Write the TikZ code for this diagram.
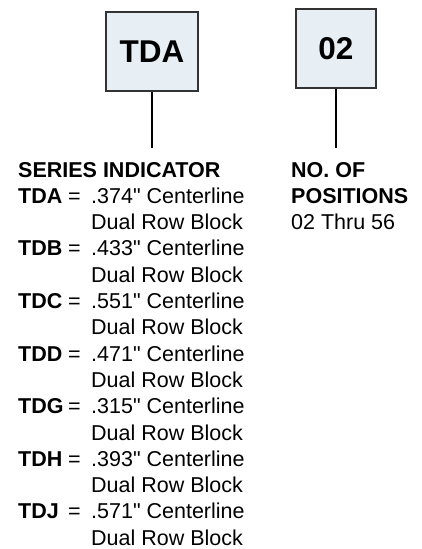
\documentclass[tikz,border=0pt]{standalone}
\usepackage{fontspec}
\setmainfont{Liberation Sans}[Ligatures=TeXOff]
\usetikzlibrary{positioning}
\definecolor{boxfill}{HTML}{E7EEF4}
\definecolor{boxline}{HTML}{333333}
\begin{document}
\begin{tikzpicture}[
  x=1pt, y=-1pt,
  every node/.style={font=\fontsize{21.5}{26}\selectfont, inner sep=0pt},
  codebox/.style={draw=boxline, fill=boxfill, line width=1.4pt, minimum height=79pt,
    font=\fontsize{31.5}{36}\selectfont\bfseries},
  head/.style={anchor=base west, font=\fontsize{21.5}{26}\selectfont\bfseries},
  entry/.style={anchor=base west},
  lead/.style={line width=2pt}
]
\useasboundingbox (0,0) rectangle (422,549);
\node[codebox, minimum width=92pt] (series) at (152,51.5) {TDA};
\node[codebox, minimum width=80pt] (positions) at (336,48.5) {02};
\coordinate[below=56pt of series.south] (series-end);
\coordinate[below=59pt of positions.south] (positions-end);
\draw[lead] (series.south) -- (series-end);
\draw[lead] (positions.south) -- (positions-end);
% series indicator column
\node[head] (series-head) at (18,177) {SERIES INDICATOR};
\foreach \code/\pitch [count=\i] in {TDA/.374,TDB/.433,TDC/.551,TDD/.471,TDG/.315,TDH/.393,TDJ/.571} {
  \pgfmathsetmacro\yc{177+26.3*(2*\i-1)}
  \node[head] (code-\i) at (18,\yc) {\code};
  \node[entry] (eq-\i) at (68,\yc) {=};
  \node[entry] (desc-\i) at (91,\yc) {\pitch" Centerline};
  \node[entry] (block-\i) at (91,\yc+26.3) {Dual Row Block};
}
% number of positions column
\node[head] (pos-head) at (291,177) {NO. OF};
\node[head] (pos-head2) at (291,203.3) {POSITIONS};
\node[entry] (pos-range) at (291,229.6) {02 Thru 56};
\end{tikzpicture}
\end{document}
